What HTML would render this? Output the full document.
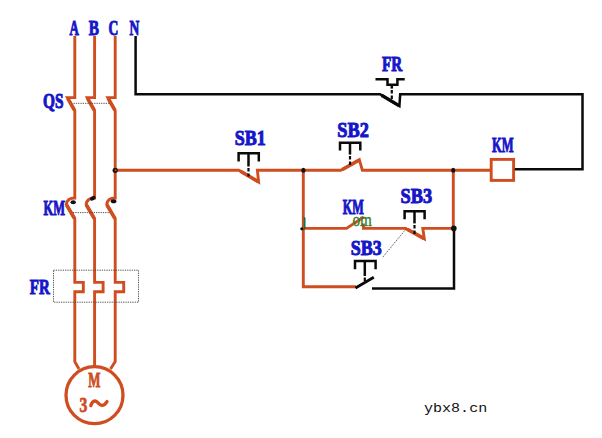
<!DOCTYPE html>
<html><head><meta charset="utf-8"><title>circuit</title>
<style>
html,body{margin:0;padding:0;background:#fff;}
svg{display:block}
.o{stroke:#d04d1f;stroke-width:2.9;fill:none;stroke-linejoin:miter;stroke-linecap:butt}
.k{stroke:#0a0a0a;stroke-width:2.5;fill:none;stroke-linejoin:miter;stroke-linecap:butt}
.d{stroke:#444;stroke-width:0.9;fill:none;stroke-dasharray:1.3 1}
.kd{stroke:#0a0a0a;stroke-width:2.2;fill:none;stroke-dasharray:3.5 2}
.t{font-family:"Liberation Serif",serif;font-weight:bold;fill:#1616c8;stroke:#1616c8;stroke-width:1.0}
</style></head><body>
<svg width="602" height="438" viewBox="0 0 602 438">
<rect width="602" height="438" fill="#fff"/>
<!-- main power lines -->
<g class="o">
<!-- A -->
<path d="M74.8 36V97.6H67.4L74.8 110.8V198Q67 198 66.3 204.5L74.8 219V282.4H83.3V291.7H74.8V361.6L79 369"/>
<!-- B -->
<path d="M94.6 36V97.6H87.2L94.6 110.8V198Q86.8 198 86.1 204.5L94.6 219V282.4H103.1V291.7H94.6V366"/>
<!-- C -->
<path d="M115.2 36V97.6H107.8L115.2 110.8V198Q107.4 198 106.7 204.5L115.2 219V282.4H123.7V291.7H115.2V361.6L110.5 369"/>
<circle cx="94.5" cy="395.2" r="28.5" stroke-width="3.3"/>
<path stroke-width="3.6" d="M67.8 98.3L74.6 110.4M87.6 98.3L94.4 110.4M108.2 98.3L115 110.4M66.6 205L74.6 218.6M86.4 205L94.4 218.6M107 205L115 218.6"/>
<!-- control -->
<path d="M115.2 170.3H238.8L258.6 182L257.4 170.3H340.8L359.3 159.6L362.4 170.3H491"/>
<rect x="491.2" y="159.4" width="22.4" height="21"/>
<path d="M303.3 170.3V286.8H356"/>
<path d="M303.3 228.4H346.5L363.8 217"/>
<path d="M363.5 223.5V228.4H405.6L424.3 238.8L422.8 228.4H453.6"/>
<path d="M453.3 170.3V228.4"/>
<path stroke-width="3.5" d="M240.5 171.2L258 181.5M342.5 169.6L359 160.2M407.2 229.2L423.8 238.4"/>
</g>
<text x="352.4" y="225.9" font-family="'Liberation Serif',serif" font-size="18.5" fill="#2e802e" stroke="#2e802e" stroke-width="0.35" textLength="19.4" lengthAdjust="spacingAndGlyphs">om</text>
<clipPath id="cj"><rect x="295" y="217.5" width="15" height="15"/></clipPath><text x="301.8" y="225.6" font-family="'Liberation Serif',serif" font-size="18" fill="#256b25" stroke="#256b25" stroke-width="0.5" clip-path="url(#cj)">j</text>
<!-- black lines -->
<g class="k">
<path d="M135.6 36V94.3H380L399.4 106L400.2 94.3H582.5V169.3H514.8"/>
<path d="M355.5 288L373.8 277.2" stroke-width="2.8"/>
<path d="M372 288.6H454V228.4"/>
<path stroke-width="3.4" d="M381.6 95.2L399 105.6"/>
<!-- FR symbol -->
<path d="M375.5 79.2H387.5V84.7H397.4V79.2H404.7"/>
<path d="M391.8 84.7V88.6"/>
<!-- SB1 -->
<path d="M238.6 161.4V153.2H258.8V161.4"/>
<path d="M248.5 153.2V166.5"/>
<!-- SB2 -->
<path d="M340 150.5V142.8H360.3V150.5"/>
<path d="M350 142.8V154.6"/>
<!-- SB3 upper -->
<path d="M404.6 219.2V211.2H424.6V219.2"/>
<path d="M414.5 211.2V223.4"/>
<!-- SB3 lower -->
<path d="M355 269.2V261H375.6V269.2"/>
<path d="M364.8 261V276"/>
</g>
<g class="kd">
<path d="M391.8 90V101"/>
<path d="M248.5 168V176.5"/>
<path d="M350 156V165"/>
<path d="M414.5 225V234"/>
<path d="M364.8 277.5V283"/>
</g>
<!-- dots -->
<g fill="#111">
<circle cx="115.2" cy="170.3" r="2.6"/>
<ellipse cx="303.4" cy="170.3" rx="2.1" ry="2.5"/>
<ellipse cx="453.2" cy="170.2" rx="2.1" ry="2.5"/>
<circle cx="453.8" cy="228.4" r="2.8"/>
<circle cx="301.8" cy="228.8" r="1.5"/>
<ellipse cx="73.2" cy="202.3" rx="2.7" ry="2"/>
<ellipse cx="92.8" cy="198.2" rx="3" ry="2" transform="rotate(-30 92.8 198.2)"/>
<ellipse cx="113.6" cy="201.2" rx="2.8" ry="2"/>
</g>
<circle cx="115.6" cy="170.3" r="1" fill="#d04d1f"/>
<!-- thin dashed -->
<g class="d">
<path d="M73.5 103.3H110"/>
<path d="M73 212.6H110"/>
<rect x="53.5" y="270.2" width="85" height="32"/>
<path d="M405.6 229.5L382.5 257.5"/>
</g>
<!-- labels -->
<g class="t" font-size="21.2">
<text x="69.6" y="34.5" textLength="9.4" lengthAdjust="spacingAndGlyphs">A</text>
<text x="88.8" y="34.5" textLength="10.2" lengthAdjust="spacingAndGlyphs">B</text>
<text x="108.6" y="34.5" textLength="9.8" lengthAdjust="spacingAndGlyphs">C</text>
<text x="129.5" y="34.5" textLength="9.8" lengthAdjust="spacingAndGlyphs">N</text>
<text x="43" y="108.3" textLength="20.5" lengthAdjust="spacingAndGlyphs">QS</text>
<text x="43.5" y="215.2" textLength="21.5" lengthAdjust="spacingAndGlyphs">KM</text>
<text x="29.8" y="294" textLength="20" lengthAdjust="spacingAndGlyphs">FR</text>
<text x="234.7" y="144.5" textLength="31" lengthAdjust="spacingAndGlyphs">SB1</text>
<text x="337.3" y="137.2" textLength="31.5" lengthAdjust="spacingAndGlyphs">SB2</text>
<text x="382" y="71.2" textLength="20.2" lengthAdjust="spacingAndGlyphs" font-size="20.5">FR</text>
<text x="492" y="151.8" textLength="21.6" lengthAdjust="spacingAndGlyphs">KM</text>
<text x="342.8" y="214.2" textLength="21" lengthAdjust="spacingAndGlyphs" font-size="20">KM</text>
<text x="400.6" y="203.2" textLength="31.6" lengthAdjust="spacingAndGlyphs" font-size="21">SB3</text>
<text x="350.8" y="255.4" textLength="31" lengthAdjust="spacingAndGlyphs" font-size="21">SB3</text>
</g>
<!-- motor text -->
<g font-family="'Liberation Serif',serif" font-weight="bold" fill="#d04d1f">
<text x="88.3" y="387.2" font-size="20.3" stroke="#d04d1f" stroke-width="0.8" textLength="12.2" lengthAdjust="spacingAndGlyphs">M</text>
<text x="79.4" y="412" font-size="21.6" stroke="#d04d1f" stroke-width="0.8" textLength="7.8" lengthAdjust="spacingAndGlyphs">3</text>
</g>
<path d="M90.8 405.6C92.5 400.5 95.5 399.6 98 402.8S103.5 407 107 401.6" stroke="#d04d1f" stroke-width="3.4" fill="none" stroke-linecap="round"/>
<!-- watermarks -->
<text x="424" y="412" font-family="'Liberation Mono',monospace" font-size="12" fill="#111" textLength="63.2" lengthAdjust="spacingAndGlyphs">ybx8.cn</text>
</svg>
</body></html>
